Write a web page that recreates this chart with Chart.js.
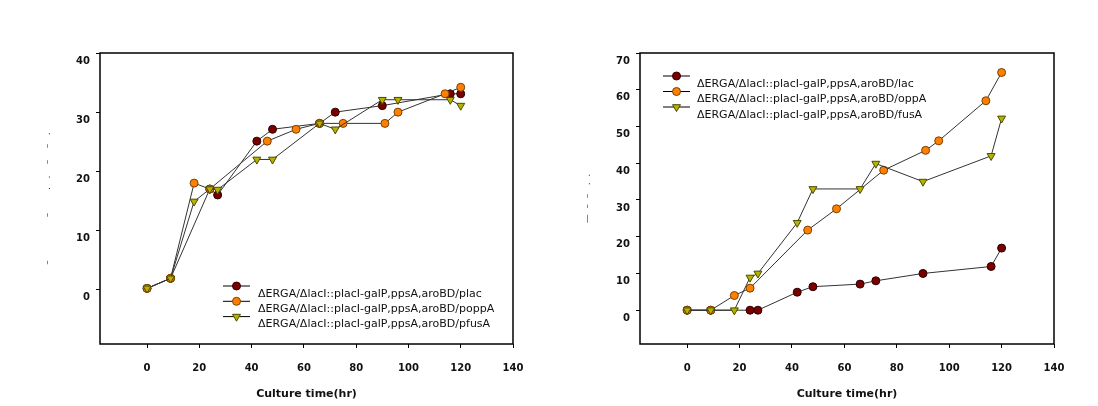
<!DOCTYPE html>
<html>
<head>
<meta charset="utf-8">
<script src="https://cdn.jsdelivr.net/npm/chart.js@4.4.1/dist/chart.umd.min.js"></script>
<style>
  body { margin: 0; background: #fff; width: 1098px; height: 406px; overflow: hidden; position: relative; }
  canvas { position: absolute; top: 0; }
  #leftChart { left: 0; }
  #rightChart { left: 549px; }
</style>
</head>
<body>
<canvas id="leftChart" width="549" height="406"></canvas>
<canvas id="rightChart" width="549" height="406"></canvas>
<script>
// Data - left panel
const lacTimeL = [0, 9, 24, 27, 42, 48, 66, 72, 90, 116, 120];
const lacValL = [0.2, 1.9, 17.0, 16.0, 25.1, 27.1, 28.1, 30.0, 31.1, 33.1, 33.1];
const oppTimeL = [0, 9, 18, 24, 46, 57, 66, 75, 91, 96, 114, 120];
const oppValL = [0.2, 1.9, 18.0, 17.0, 25.1, 27.1, 28.1, 28.1, 28.1, 30.0, 33.1, 34.2];
const fusTimeL = [0, 9, 18, 24, 27, 42, 48, 66, 72, 90, 96, 116, 120];
const fusValL = [0.2, 1.9, 14.9, 17.0, 16.9, 22.0, 22.0, 28.1, 27.1, 32.1, 32.1, 32.1, 31.1];
const legendL = [
    'ΔERGA/ΔlacI::placI-galP,ppsA,aroBD/plac',
    'ΔERGA/ΔlacI::placI-galP,ppsA,aroBD/poppA',
    'ΔERGA/ΔlacI::placI-galP,ppsA,aroBD/pfusA'
];
const yTicksL = [0, 10, 20, 30, 40];

// Data - right panel
const lacTimeR = [0, 9, 24, 27, 42, 48, 66, 72, 90, 116, 120];
const lacValR = [0, 0, 0, 0, 4.9, 6.4, 7.1, 8.0, 10.0, 11.9, 16.9];
const oppTimeR = [0, 9, 18, 24, 46, 57, 75, 91, 96, 114, 120];
const oppValR = [0, 0, 4.0, 6.0, 21.8, 27.6, 38.1, 43.5, 46.1, 57.0, 64.7];
const fusTimeR = [0, 9, 18, 24, 27, 42, 48, 66, 72, 90, 116, 120];
const fusValR = [0, 0, 0, 8.9, 10.0, 23.8, 33.0, 33.0, 39.9, 35.0, 42.0, 52.2];
const legendR = [
    'ΔERGA/ΔlacI::placI-galP,ppsA,aroBD/lac',
    'ΔERGA/ΔlacI::placI-galP,ppsA,aroBD/oppA',
    'ΔERGA/ΔlacI::placI-galP,ppsA,aroBD/fusA'
];
const yTicksR = [0, 10, 20, 30, 40, 50, 60, 70];

const xTicks = [0, 20, 40, 60, 80, 100, 120, 140];
const xTitle = 'Culture time(hr)';

// Styles
const seriesStyles = [
    { fill: '#7a0000', edge: '#2a0000', pointStyle: 'circle', radius: 4, rotation: 0 },
    { fill: '#ff8000', edge: '#7a4000', pointStyle: 'circle', radius: 4, rotation: 0 },
    { fill: '#b4b400', edge: '#4a4a00', pointStyle: 'triangle', radius: 4.6, rotation: 180 }
];
const tickFont = { family: 'DejaVu Sans', size: 10, weight: 'bold' };

const frameBox = {
    id: 'frameBox',
    beforeDatasetsDraw(chart) {
        const { ctx, chartArea: a } = chart;
        ctx.save();
        ctx.strokeStyle = '#000';
        ctx.lineWidth = 1.5;
        ctx.strokeRect(a.left, a.top, a.right - a.left, a.bottom - a.top);
        ctx.restore();
    }
};

const boxLegend = {
    id: 'boxLegend',
    afterDatasetsDraw(chart, args, opts) {
        const ctx = chart.ctx;
        ctx.save();
        opts.labels.forEach((label, i) => {
            const y = opts.y + i * opts.rowGap;
            const s = seriesStyles[i];
            ctx.strokeStyle = '#000';
            ctx.lineWidth = 1;
            ctx.beginPath();
            ctx.moveTo(opts.x, y);
            ctx.lineTo(opts.x + 27, y);
            ctx.stroke();
            ctx.fillStyle = s.fill;
            ctx.strokeStyle = s.edge;
            Chart.helpers.drawPoint(ctx, {
                pointStyle: s.pointStyle, radius: s.radius, rotation: s.rotation, borderWidth: 1
            }, opts.x + 13.5, y);
            ctx.fillStyle = '#111';
            ctx.font = '11px "DejaVu Sans"';
            ctx.textBaseline = 'middle';
            ctx.fillText(label, opts.x + opts.textDx, y + 8);
        });
        ctx.restore();
    }
};

function toPoints(xs, ys) {
    return xs.map((x, i) => ({ x: x, y: ys[i] }));
}

function makeDataset(label, points, i) {
    const s = seriesStyles[i];
    return {
        label: label,
        data: points,
        borderColor: '#333',
        borderWidth: 1,
        backgroundColor: s.fill,
        pointBackgroundColor: s.fill,
        pointBorderColor: s.edge,
        pointBorderWidth: 1,
        pointStyle: s.pointStyle,
        pointRadius: s.radius,
        pointRotation: s.rotation,
        tension: 0,
        order: 2 - i
    };
}

function makeChart(id, cfg) {
    const ctx = document.getElementById(id).getContext('2d');
    return new Chart(ctx, {
        type: 'line',
        data: {
            datasets: cfg.series.map((pts, i) => makeDataset(cfg.legend[i], pts, i))
        },
        options: {
            responsive: false,
            animation: false,
            devicePixelRatio: 1,
            layout: {
                padding: { left: cfg.padLeft, right: cfg.padRight, top: 53, bottom: 0 }
            },
            scales: {
                x: {
                    type: 'linear',
                    min: -18,
                    max: 140,
                    afterBuildTicks: axis => { axis.ticks = xTicks.map(v => ({ value: v })); },
                    afterFit: scale => { scale.height = 62; },
                    border: { display: false },
                    grid: { drawOnChartArea: false, drawTicks: true, tickLength: 4, color: '#000', lineWidth: 1 },
                    ticks: { color: '#111', font: tickFont, padding: 14, maxRotation: 0 },
                    title: {
                        display: true,
                        text: xTitle,
                        color: '#111',
                        font: { family: 'DejaVu Sans', size: 11, weight: 'bold' },
                        padding: { top: 0, bottom: 5 }
                    }
                },
                y: {
                    type: 'linear',
                    min: -9.2,
                    max: cfg.yMax,
                    afterBuildTicks: axis => { axis.ticks = cfg.yTicks.map(v => ({ value: v })); },
                    afterFit: scale => { scale.width = cfg.yWidth; },
                    border: { display: false },
                    grid: { drawOnChartArea: false, drawTicks: true, tickLength: 4, color: '#000', lineWidth: 1 },
                    ticks: { color: '#111', font: tickFont, padding: 6, labelOffset: 8 },
                    title: {
                        display: true,
                        text: cfg.yTitle,
                        color: '#1f3aa8',
                        font: { family: 'DejaVu Sans', size: 9 },
                        padding: { top: 0, bottom: 0 }
                    }
                }
            },
            plugins: {
                legend: { display: false },
                tooltip: { enabled: false },
                boxLegend: cfg.legendBox
            }
        },
        plugins: [frameBox, boxLegend]
    });
}

makeChart('leftChart', {
    series: [toPoints(lacTimeL, lacValL), toPoints(oppTimeL, oppValL), toPoints(fusTimeL, fusValL)],
    legend: legendL,
    yTicks: yTicksL,
    yMax: 40,
    yTitle: '–               –        .   .    –    –   .',
    padLeft: 42,
    padRight: 36,
    yWidth: 58,
    legendBox: { labels: legendL, x: 223, y: 286, rowGap: 15.3, textDx: 35 }
});

makeChart('rightChart', {
    series: [toPoints(lacTimeR, lacValR), toPoints(oppTimeR, oppValR), toPoints(fusTimeR, fusValR)],
    legend: legendR,
    yTicks: yTicksR,
    yMax: 70,
    yTitle: '—  –  –   .  .',
    padLeft: 33,
    padRight: 44,
    yWidth: 58,
    legendBox: { labels: legendR, x: 114, y: 76, rowGap: 15.5, textDx: 34 }
});
</script>
</body>
</html>
